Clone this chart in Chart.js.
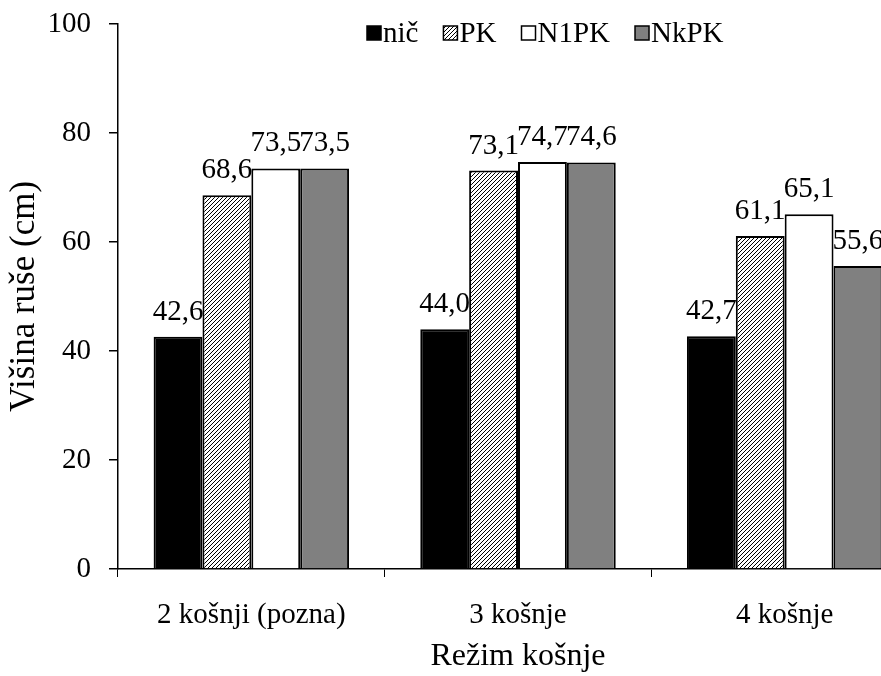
<!DOCTYPE html>
<html>
<head>
<meta charset="utf-8">
<script src="https://cdn.jsdelivr.net/npm/chart.js@4/dist/chart.umd.min.js"></script>
<style>
  html, body { margin: 0; padding: 0; background: #fff; overflow: hidden; }
  #wrap { width: 918px; height: 676px; }
</style>
</head>
<body>
<div id="wrap"><canvas id="myChart" width="918" height="676"></canvas></div>
<script>
const categories = ["2 košnji (pozna)", "3 košnje", "4 košnje"];
const seriesNames = ["nič", "PK", "N1PK", "NkPK"];
const nicValues = [42.6, 44.0, 42.7];
const pkValues = [68.6, 73.1, 61.1];
const n1pkValues = [73.5, 74.7, 65.1];
const nkpkValues = [73.5, 74.6, 55.6];
const yTicks = [0, 20, 40, 60, 80, 100];

const FONT = "'Liberation Serif', 'Times New Roman', serif";

function makeHatch() {
  const s = 4;
  const c = document.createElement("canvas");
  c.width = s; c.height = s;
  const ctx = c.getContext("2d");
  ctx.fillStyle = "#fff";
  ctx.fillRect(0, 0, s, s);
  ctx.strokeStyle = "#000";
  ctx.lineWidth = 1;
  ctx.beginPath();
  ctx.moveTo(0, s); ctx.lineTo(s, 0);
  ctx.moveTo(-1, 1); ctx.lineTo(1, -1);
  ctx.moveTo(s - 1, s + 1); ctx.lineTo(s + 1, s - 1);
  ctx.stroke();
  return ctx.createPattern(c, "repeat");
}

const fills = ["#000000", makeHatch(), "#ffffff", "#808080"];

// value labels above the bars
const valueLabels = {
  id: "valueLabels",
  afterDatasetsDraw(chart) {
    const ctx = chart.ctx;
    ctx.save();
    ctx.font = "29px " + FONT;
    ctx.fillStyle = "#000";
    ctx.textAlign = "center";
    ctx.textBaseline = "alphabetic";
    chart.data.datasets.forEach((ds, i) => {
      chart.getDatasetMeta(i).data.forEach((bar, j) => {
        ctx.fillText(ds.data[j].toFixed(1).replace(".", ","), bar.x, bar.y - 17);
      });
    });
    ctx.restore();
  }
};

// legend inside the plot area, top
const topLegend = {
  id: "topLegend",
  afterDraw(chart) {
    const ctx = chart.ctx;
    ctx.save();
    ctx.font = "29px " + FONT;
    ctx.textBaseline = "middle";
    ctx.textAlign = "left";
    let x = 367;
    const y = 33;
    const box = 14;
    chart.data.datasets.forEach(ds => {
      ctx.fillStyle = ds.backgroundColor;
      ctx.fillRect(x, y - box / 2, box, box);
      ctx.strokeStyle = "#000";
      ctx.lineWidth = 1.5;
      ctx.strokeRect(x, y - box / 2, box, box);
      ctx.fillStyle = "#000";
      ctx.fillText(ds.label, x + box + 2, y + 1);
      x += box + 2 + ctx.measureText(ds.label).width + 25;
    });
    ctx.restore();
  }
};

new Chart("myChart", {
  type: "bar",
  data: {
    labels: categories,
    datasets: [nicValues, pkValues, n1pkValues, nkpkValues].map((vals, i) => ({
      label: seriesNames[i],
      data: vals,
      backgroundColor: fills[i],
      borderColor: "#000",
      borderWidth: 2,
      borderSkipped: "bottom",
      categoryPercentage: 0.733,
      barPercentage: 1.0
    }))
  },
  options: {
    responsive: false,
    animation: false,
    layout: { padding: { top: 24, right: 0, left: 0, bottom: 0 } },
    plugins: {
      legend: { display: false },
      tooltip: { enabled: false }
    },
    scales: {
      x: {
        grid: { display: true, drawOnChartArea: false, tickLength: 8, color: "#000", lineWidth: 1 },
        border: { display: true, color: "#000", width: 1.5 },
        ticks: { color: "#000", font: { family: FONT, size: 29 }, padding: 21, maxRotation: 0 },
        title: { display: true, text: "Režim košnje", color: "#000", font: { family: FONT, size: 32 }, padding: 0 },
        afterFit(s) { s.height = 107; s.paddingLeft = 0; s.paddingRight = 0; }
      },
      y: {
        min: 0,
        max: 100,
        afterBuildTicks(s) { s.ticks = yTicks.map(v => ({ value: v })); },
        grid: { display: true, drawOnChartArea: false, tickLength: 9, color: "#000", lineWidth: 1.5 },
        border: { display: true, color: "#000", width: 1.5 },
        ticks: { color: "#000", font: { family: FONT, size: 29 }, padding: 18 },
        title: { display: true, text: "Višina ruše (cm)", color: "#000", font: { family: FONT, size: 35 }, padding: { top: 4, bottom: 0 } },
        afterFit(s) { s.width = 118; s.paddingTop = 0; s.paddingBottom = 0; }
      }
    }
  },
  plugins: [valueLabels, topLegend]
});
</script>
</body>
</html>
